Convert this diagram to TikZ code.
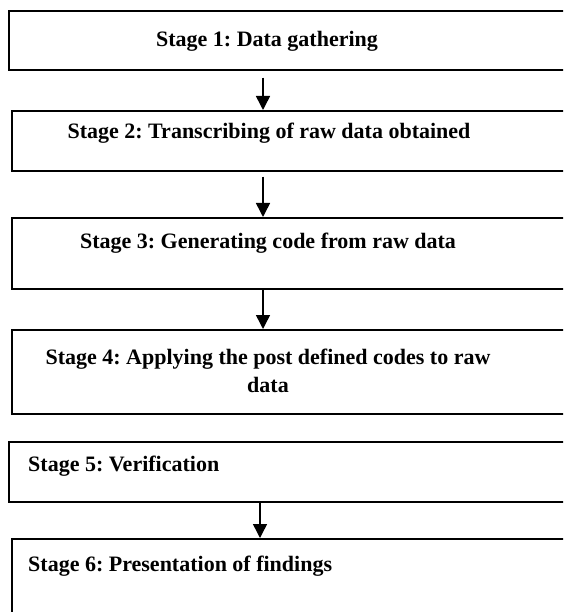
\documentclass[tikz,border=0pt]{standalone}
\usepackage{fontspec}
\setmainfont{Liberation Serif}
\usetikzlibrary{arrows.meta}
\frenchspacing
\begin{document}
\begin{tikzpicture}[x=1pt,y=-1pt,
  stagebox/.style={draw, line width=1.6pt, rectangle, anchor=north west,
    inner sep=0pt, minimum width=600pt},
  stagetext/.style={font=\bfseries\fontsize{22}{28}\selectfont, inner sep=0pt},
  flow/.style={-{Triangle[length=14pt,width=14pt]}, line width=1.5pt}]
\useasboundingbox (0,0) rectangle (563,612);
\clip (0,0) rectangle (563,612);

% stage boxes (they run past the right edge of the page)
\node[stagebox, minimum height=59pt]  (s1) at (8,10)   {};
\node[stagebox, minimum height=60pt]  (s2) at (11,110) {};
\node[stagebox, minimum height=71pt]  (s3) at (11,217) {};
\node[stagebox, minimum height=84pt]  (s4) at (11,329) {};
\node[stagebox, minimum height=60pt]  (s5) at (8,441)  {};
\node[stagebox, minimum height=100pt] (s6) at (11,538) {};

% stage labels
\node[stagetext, anchor=base] (t1) at (267,47)  {Stage 1: Data gathering};
\node[stagetext, anchor=base] (t2) at (269,139) {Stage 2: Transcribing of raw data obtained};
\node[stagetext, anchor=base] (t3) at (268,248) {Stage 3: Generating code from raw data};
\node[stagetext, anchor=north, align=center] (t4) at (268,349)
  {Stage 4: Applying the post defined codes to raw\\data};
\node[stagetext, anchor=base west] (t5) at (28,471) {Stage 5: Verification};
\node[stagetext, anchor=base west] (t6) at (28,571) {Stage 6: Presentation of findings};

% connectors
\coordinate (ax) at (263,0);
\coordinate (bx) at (260,0);
\draw[flow, shorten <=7pt] (s1.south -| ax) -- (s2.north -| ax);
\draw[flow, shorten <=5pt] (s2.south -| ax) -- (s3.north -| ax);
\draw[flow] (s3.south -| ax) -- (s4.north -| ax);
\draw[flow] (s5.south -| bx) -- (s6.north -| bx);
\end{tikzpicture}
\end{document}
